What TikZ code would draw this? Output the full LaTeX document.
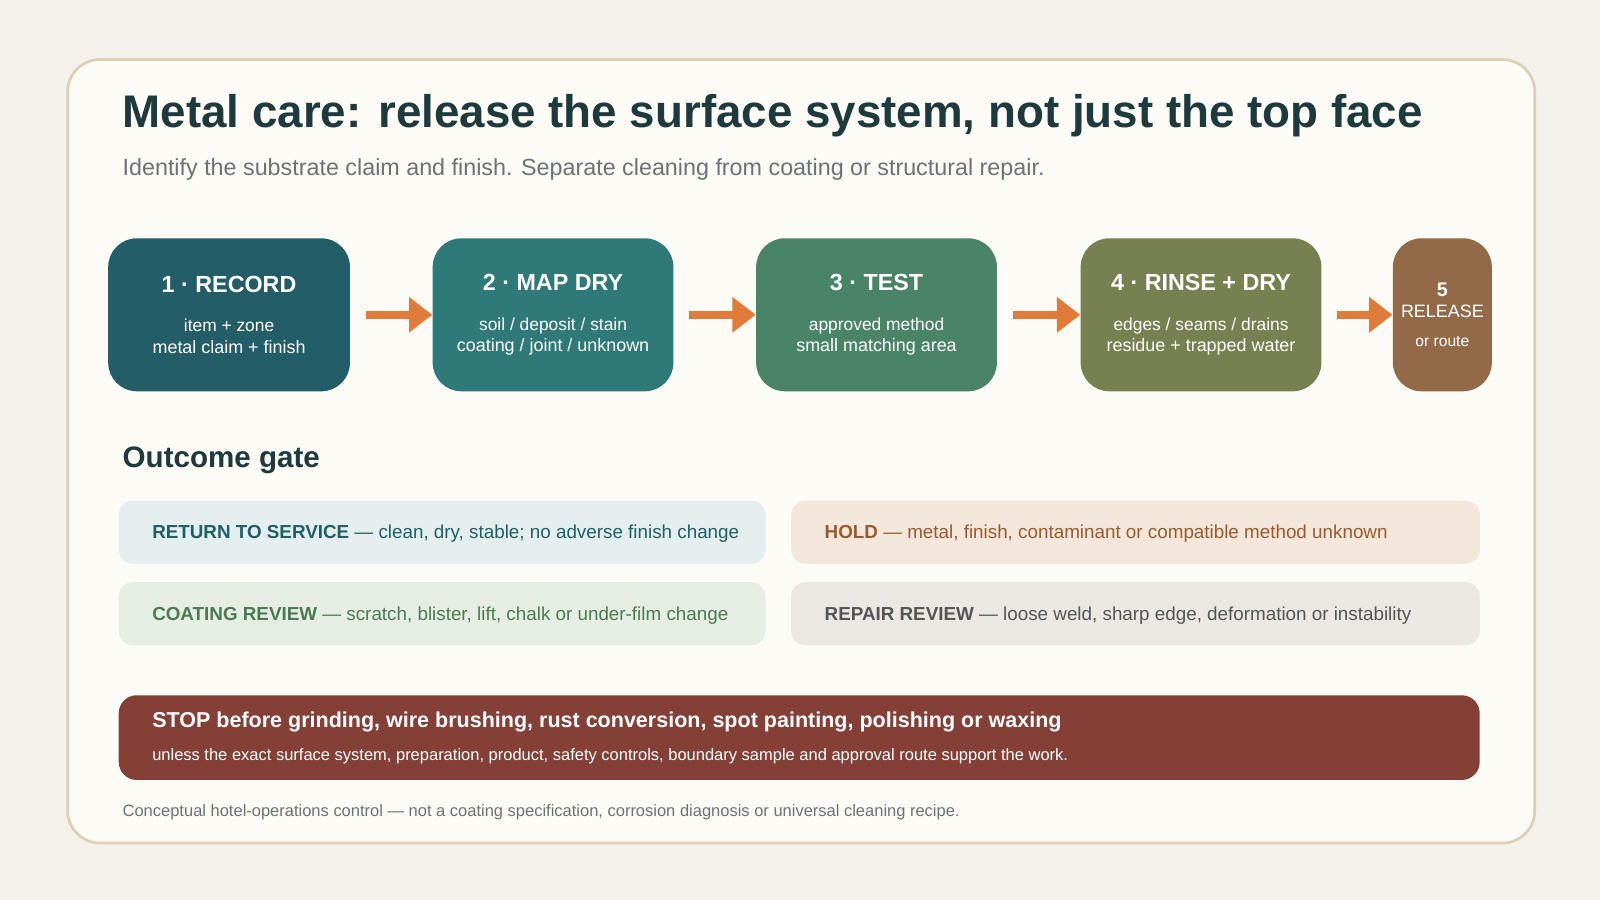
\documentclass[tikz,border=0pt]{standalone}
\usepackage{fontspec}
\setmainfont{Liberation Sans}
\usetikzlibrary{arrows.meta}
\definecolor{bg}{HTML}{F4F0EA}\definecolor{card}{HTML}{FDFBF6}\definecolor{cardb}{HTML}{DCCFB3}
\definecolor{ink}{HTML}{1F3A3D}\definecolor{sub}{HTML}{6B7375}
\definecolor{cA}{HTML}{235E68}\definecolor{cB}{HTML}{2F7A78}\definecolor{cC}{HTML}{4A8466}\definecolor{cD}{HTML}{768050}\definecolor{cE}{HTML}{936A48}
\definecolor{arr}{HTML}{E07B39}
\definecolor{oA}{HTML}{E5EEEE}\definecolor{tA}{HTML}{1F5F66}
\definecolor{oB}{HTML}{F3E6DA}\definecolor{tB}{HTML}{9A5A2E}
\definecolor{oC}{HTML}{E6EDE2}\definecolor{tC}{HTML}{4A7A55}
\definecolor{oD}{HTML}{EBE7E2}\definecolor{tD}{HTML}{555555}
\definecolor{stopc}{HTML}{843F36}
\newcommand{\hd}{\bfseries\fontsize{13}{15}\selectfont}
\newcommand{\bd}{\mdseries\fontsize{9.7}{17}\selectfont}
\begin{document}
\begin{tikzpicture}[x=0.02cm,y=-0.02cm,
 stepbox/.style={rounded corners=16pt,minimum height=3cm,text=white,align=center,inner sep=0pt},
 flow/.style={-{Triangle[length=13pt,width=19pt]},line width=4.5pt,draw=arr},
 gate/.style={rounded corners=8pt,minimum height=1.24cm,anchor=west,inner sep=0pt},
 gtext/.style={anchor=west,font=\fontsize{10.5}{12}\selectfont}]
\fill[bg] (0,0) rectangle (1568,882);
\node[draw=cardb,line width=1.5pt,fill=card,rounded corners=18pt,minimum width=28.76cm,minimum height=15.36cm,anchor=north west] (card) at (65,57) {};
\node[anchor=west,text=ink,font=\bfseries\fontsize{25.5}{28}\selectfont] (title) at (114,113) {Metal care: release the surface system, not just the top face};
\node[anchor=west,text=sub,font=\fontsize{13}{15}\selectfont] (subt) at (114,166) {Identify the substrate claim and finish. Separate cleaning from coating or structural repair.};
\node[stepbox,fill=cA,minimum width=4.74cm] (s1) at (224.5,308.5) {\hd 1 · RECORD\\[10pt]\bd item + zone\\metal claim + finish};
\node[stepbox,fill=cB,minimum width=4.72cm] (s2) at (542,308.5) {\hd 2 · MAP DRY\\[10pt]\bd soil / deposit / stain\\coating / joint / unknown};
\node[stepbox,fill=cC,minimum width=4.72cm] (s3) at (859,308.5) {\hd 3 · TEST\\[10pt]\bd approved method\\small matching area};
\node[stepbox,fill=cD,minimum width=4.72cm] (s4) at (1177,308.5) {\hd 4 · RINSE + DRY\\[10pt]\bd edges / seams / drains\\residue + trapped water};
\node[stepbox,fill=cE,minimum width=1.94cm] (s5) at (1413.5,308.5) {\bfseries\fontsize{11}{19}\selectfont 5\\RELEASE\\[4pt]\mdseries\fontsize{8.7}{10}\selectfont or route};
\draw[flow] ([xshift=0.3cm]s1.east) -- (s2.west);
\draw[flow] ([xshift=0.3cm]s2.east) -- (s3.west);
\draw[flow] ([xshift=0.3cm]s3.east) -- (s4.west);
\draw[flow] ([xshift=0.3cm]s4.east) -- (s5.west);
\node[anchor=west,text=ink,font=\bfseries\fontsize{16.5}{18}\selectfont] (og) at (114,451) {Outcome gate};
\node[gate,fill=oA,minimum width=12.68cm] (g1) at (116,521.5) {};
\node[gtext,text=tA] (t1) at (143,523) {\textbf{RETURN TO SERVICE} — clean, dry, stable; no adverse finish change};
\node[gate,fill=oB,minimum width=13.5cm] (g2) at (775,521.5) {};
\node[gtext,text=tB] (t2) at (802,523) {\textbf{HOLD} — metal, finish, contaminant or compatible method unknown};
\node[gate,fill=oC,minimum width=12.68cm] (g3) at (116,601.5) {};
\node[gtext,text=tC] (t3) at (143,603) {\textbf{COATING REVIEW} — scratch, blister, lift, chalk or under-film change};
\node[gate,fill=oD,minimum width=13.5cm] (g4) at (775,601.5) {};
\node[gtext,text=tD] (t4) at (802,603) {\textbf{REPAIR REVIEW} — loose weld, sharp edge, deformation or instability};
\node[rounded corners=10pt,fill=stopc,minimum width=26.68cm,minimum height=1.66cm,anchor=north west,inner sep=0pt] (stop) at (116,681) {};
\node[anchor=west,text=white,font=\bfseries\fontsize{12}{14}\selectfont] (st1) at (143,708) {STOP before grinding, wire brushing, rust conversion, spot painting, polishing or waxing};
\node[anchor=west,text=white,font=\fontsize{9.2}{11}\selectfont] (st2) at (143,741) {unless the exact surface system, preparation, product, safety controls, boundary sample and approval route support the work.};
\node[anchor=west,text=sub,font=\fontsize{9.2}{11}\selectfont] (foot) at (114,796) {Conceptual hotel-operations control — not a coating specification, corrosion diagnosis or universal cleaning recipe.};
\end{tikzpicture}
\end{document}
